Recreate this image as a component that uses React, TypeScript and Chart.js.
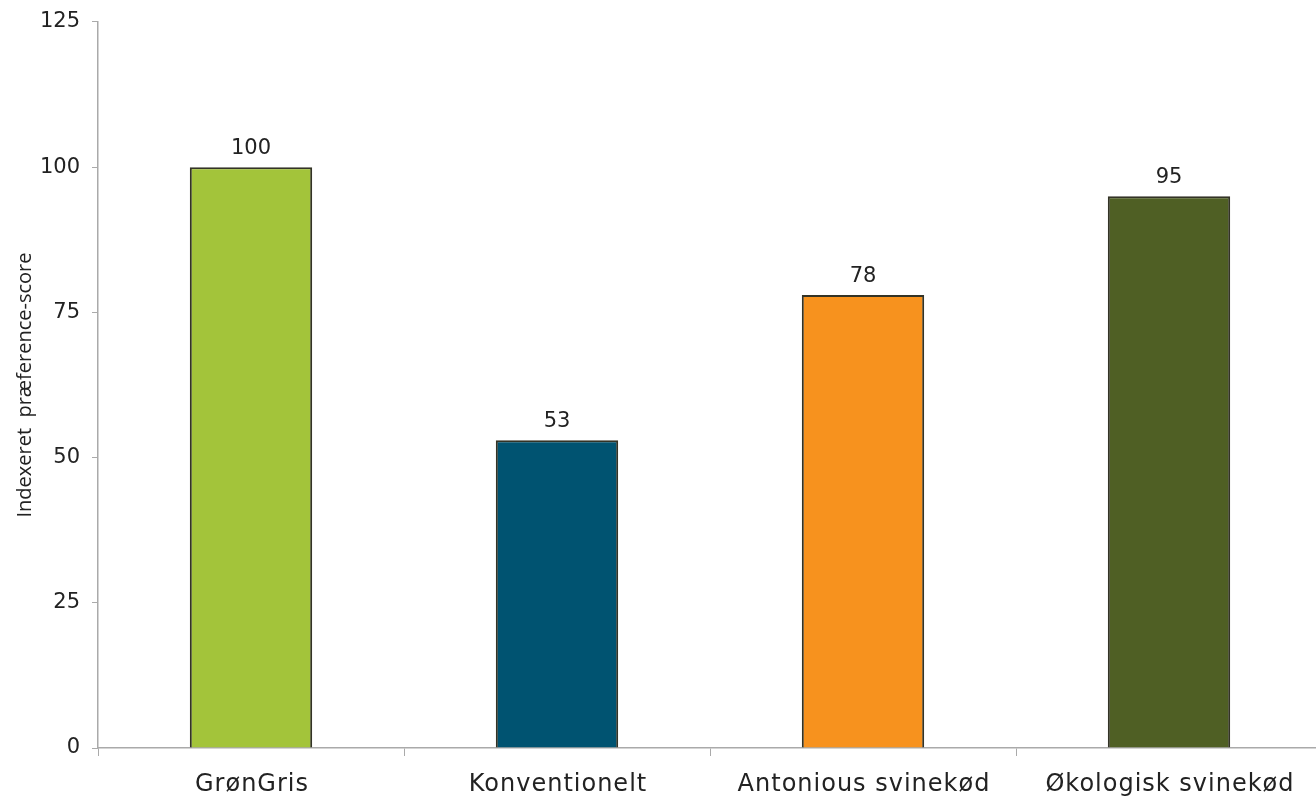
import { useEffect, useRef } from 'react'
import { Chart, registerables, Plugin } from 'chart.js'

Chart.register(...registerables)

const categories = ['GrønGris', 'Konventionelt', 'Antonious svinekød', 'Økologisk svinekød']
const scores = [100, 53, 78, 95]
const barColors = ['#a3c43a', '#005371', '#f7921e', '#4f5f24']
const yTicks = [0, 25, 50, 75, 100, 125]

// values above the bars
const valueLabels: Plugin<'bar'> = {
  id: 'valueLabels',
  afterDatasetsDraw(chart) {
    const ctx = chart.ctx
    const meta = chart.getDatasetMeta(0)
    ctx.save()
    ctx.font = '21px "DejaVu Sans"'
    ctx.fillStyle = '#222'
    ctx.textAlign = 'center'
    ctx.textBaseline = 'bottom'
    meta.data.forEach((bar, i) => {
      ctx.fillText(String(scores[i]), bar.x, bar.y - 8)
    })
    ctx.restore()
  },
}

// category labels, drawn with a little letter spacing
const categoryLabels: Plugin<'bar'> = {
  id: 'categoryLabels',
  afterDraw(chart) {
    const ctx = chart.ctx as any
    const xScale = chart.scales.x
    ctx.save()
    ctx.font = '24px "DejaVu Sans"'
    ctx.letterSpacing = '1px'
    ctx.fillStyle = '#222'
    ctx.textAlign = 'center'
    ctx.textBaseline = 'middle'
    categories.forEach((label, i) => {
      ctx.fillText(label, xScale.getPixelForTick(i) + 1, xScale.top + 37)
    })
    ctx.restore()
  },
}

const App: React.FC = () => {
  const canvasRef = useRef<HTMLCanvasElement>(null)
  const chartRef = useRef<Chart | null>(null)

  useEffect(() => {
    document.body.style.margin = '0'
    if (!canvasRef.current) return
    if (chartRef.current) chartRef.current.destroy()
    const ctx = canvasRef.current.getContext('2d')
    if (!ctx) return

    chartRef.current = new Chart(ctx, {
      type: 'bar',
      data: {
        labels: categories,
        datasets: [{
          label: 'Indexeret præference-score',
          data: scores,
          backgroundColor: barColors,
          borderColor: '#333326',
          borderWidth: 2,
          barPercentage: 0.4,
          categoryPercentage: 1,
        }],
      },
      options: {
        animation: false,
        responsive: true,
        maintainAspectRatio: false,
        layout: { padding: { top: 20, right: 0, left: 0, bottom: 0 } },
        plugins: {
          legend: { display: false },
          tooltip: { enabled: false },
        },
        scales: {
          x: {
            grid: { drawOnChartArea: false, drawTicks: true, tickLength: 8, color: '#aaa', offset: true },
            border: { color: '#aaa', width: 1.5 },
            ticks: { display: false },
            afterFit(scale) { scale.height = 54 },
          },
          y: {
            min: 0,
            max: 125,
            afterBuildTicks(scale) { scale.ticks = yTicks.map(v => ({ value: v })) },
            grid: { drawOnChartArea: false, drawTicks: true, tickLength: 6, color: '#aaa' },
            border: { color: '#aaa', width: 1.5 },
            ticks: {
              color: '#222',
              font: { family: 'DejaVu Sans', size: 21, lineHeight: 0.95 },
              padding: 12,
            },
            title: {
              display: true,
              text: 'Indexeret  præference-score',
              color: '#222',
              font: { family: 'Open Sans', size: 20 },
              padding: { top: 13, bottom: 0 },
            },
            afterFit(scale) { scale.width = 98 },
          },
        },
      },
      plugins: [valueLabels, categoryLabels],
    })

    return () => {
      if (chartRef.current) chartRef.current.destroy()
    }
  }, [])

  return (
    <div style={{ width: 1316, height: 802, overflow: 'hidden', background: '#fff' }}>
      <div style={{ width: 1322, height: 802, position: 'relative' }}>
        <canvas ref={canvasRef}></canvas>
      </div>
    </div>
  )
}

export default App
